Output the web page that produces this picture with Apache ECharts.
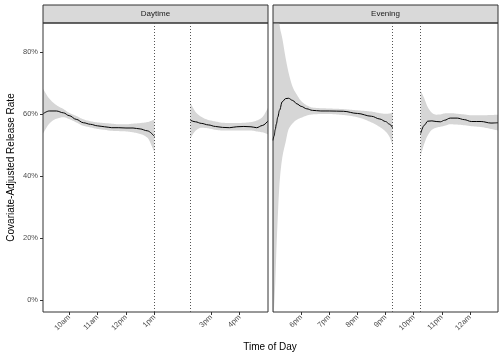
<!DOCTYPE html>
<html>
<head>
<meta charset="utf-8">
<script src="https://cdn.jsdelivr.net/npm/echarts@6/dist/echarts.min.js"></script>
<style>html,body{margin:0;padding:0;background:#fff}#c{width:504px;height:360px}</style>
</head>
<body>
<div id="c"></div>
<script>
// ---- Data (hours of day, 24+ = after midnight; values in %) ----
const panels = ['Daytime', 'Evening'];

// Daytime, segment 1
const day1Hours = [9.08, 9.3, 9.55, 9.8, 10.0, 10.25, 10.5, 10.75, 11.0, 11.25, 11.5, 11.75, 12.0, 12.25, 12.5, 12.75, 13.0];
const day1Mean  = [60.1, 61.0, 61.0, 60.4, 59.5, 58.3, 57.2, 56.7, 56.2, 55.9, 55.6, 55.6, 55.5, 55.5, 55.2, 54.6, 52.8];
const day1Upper = [68.2, 65.0, 62.9, 61.6, 60.4, 59.4, 58.3, 57.7, 57.3, 57.1, 56.9, 56.7, 56.7, 56.9, 57.1, 57.4, 58.2];
const day1Lower = [53.7, 56.9, 58.5, 59.0, 58.4, 57.3, 56.2, 55.7, 55.2, 54.9, 54.6, 54.5, 54.4, 54.1, 53.6, 52.4, 47.7];

// Daytime, segment 2
const day2Hours = [14.27, 14.45, 14.65, 14.9, 15.15, 15.4, 15.65, 15.9, 16.15, 16.4, 16.6, 16.8, 17.0];
const day2Mean  = [58.0, 57.5, 57.0, 56.5, 56.0, 55.7, 55.6, 55.9, 56.0, 55.9, 55.6, 56.3, 57.8];
const day2Upper = [63.6, 60.7, 59.1, 58.1, 57.6, 57.2, 57.1, 57.1, 57.2, 57.4, 57.9, 59.0, 62.0];
const day2Lower = [52.2, 54.6, 55.6, 55.4, 54.9, 54.7, 54.7, 54.7, 54.7, 54.7, 54.4, 54.1, 53.5];

// Evening, segment 1
const eve1Hours = [17.0, 17.04, 17.08, 17.12, 17.17, 17.23, 17.33, 17.45, 17.55, 17.7, 17.85, 18.0, 18.2, 18.4, 18.7, 19.0, 19.5, 20.0, 20.5, 20.8, 21.0, 21.15, 21.25];
const eve1Mean  = [51.5, 53.0, 55.0, 56.8, 59.0, 61.2, 64.0, 65.0, 65.1, 64.4, 63.3, 62.5, 61.7, 61.2, 61.0, 61.0, 60.9, 60.2, 59.3, 58.4, 57.6, 56.7, 55.6];
const eve1Upper = [130, 122, 115, 108, 100, 89.0, 84.5, 78.0, 73.5, 68.7, 66.2, 64.2, 62.8, 62.1, 61.9, 61.8, 61.6, 61.2, 60.8, 60.3, 60.1, 60.2, 60.6];
const eve1Lower = [-8, -2, 5.4, 16, 26.8, 37.5, 46, 51, 55, 57, 58.2, 58.8, 59.5, 59.9, 60.0, 60.0, 59.7, 59.0, 57.3, 55.8, 54.4, 52.5, 49.9];

// Evening, segment 2
const eve2Hours = [22.25, 22.38, 22.5, 22.65, 22.8, 22.95, 23.1, 23.3, 23.55, 23.8, 24.05, 24.4, 24.75, 25.0];
const eve2Mean  = [53.7, 56.4, 57.7, 57.8, 57.6, 57.5, 58.0, 58.7, 58.7, 58.2, 57.6, 57.6, 57.1, 57.2];
const eve2Upper = [67.6, 65.0, 62.3, 60.4, 59.8, 59.9, 60.2, 60.3, 60.1, 59.9, 59.6, 59.6, 59.7, 59.8];
const eve2Lower = [46.5, 50.5, 53.1, 54.9, 55.6, 55.9, 56.2, 56.7, 56.6, 56.4, 56.1, 55.8, 55.2, 54.7];

// Break markers (dotted lines)
const dayBreaks = [13.0, 14.27];
const eveBreaks = [21.25, 22.25];

// Axis ticks
const dayTicks = [10, 11, 12, 13, 15, 16];
const dayTickLabels = ['10am', '11am', '12pm', '1pm', '3pm', '4pm'];
const eveTicks = [18, 19, 20, 21, 22, 23, 24];
const eveTickLabels = ['6pm', '7pm', '8pm', '9pm', '10pm', '11pm', '12am'];
const yTicks = [0, 20, 40, 60, 80];

// ---- Build chart ----
const FONT = 'Liberation Sans';
const RIBBON = '#d6d6d6';

// Monotone cubic (Fritsch-Carlson) sampling of pixel points, for a smooth ribbon edge
function monotoneSample(pts) {
  const n = pts.length;
  if (n < 3) return pts;
  const dx = [], m = [], t = new Array(n);
  for (let i = 0; i < n - 1; i++) {
    dx.push(pts[i + 1][0] - pts[i][0]);
    m.push((pts[i + 1][1] - pts[i][1]) / dx[i]);
  }
  t[0] = m[0]; t[n - 1] = m[n - 2];
  for (let i = 1; i < n - 1; i++) {
    if (m[i - 1] * m[i] <= 0) t[i] = 0;
    else {
      const w1 = 2 * dx[i] + dx[i - 1], w2 = dx[i] + 2 * dx[i - 1];
      t[i] = (w1 + w2) / (w1 / m[i - 1] + w2 / m[i]);
    }
  }
  const out = [];
  for (let i = 0; i < n - 1; i++) {
    const steps = Math.max(2, Math.ceil(dx[i]));
    for (let k = 0; k < steps; k++) {
      const s = k / steps, h = dx[i];
      const h00 = 2 * s * s * s - 3 * s * s + 1, h10 = s * s * s - 2 * s * s + s;
      const h01 = -2 * s * s * s + 3 * s * s, h11 = s * s * s - s * s;
      out.push([pts[i][0] + s * h,
        h00 * pts[i][1] + h10 * h * t[i] + h01 * pts[i + 1][1] + h11 * h * t[i + 1]]);
    }
  }
  out.push(pts[n - 1]);
  return out;
}

function segment(hours, mean, lower, upper, gi, breaks) {
  const s = [];
  s.push({
    type: 'custom', xAxisIndex: gi, yAxisIndex: gi, silent: true, z: 1,
    encode: { x: 0, y: [1, 2] },
    data: hours.map((h, i) => [h, lower[i], upper[i]]),
    renderItem: function (params, api) {
      if (params.dataIndex !== 0) return null;
      const up = monotoneSample(hours.map((h, i) => api.coord([h, upper[i]])));
      const lo = monotoneSample(hours.map((h, i) => api.coord([h, lower[i]]))).reverse();
      const cs = params.coordSys;
      return {
        type: 'polygon',
        shape: { points: up.concat(lo) },
        style: { fill: RIBBON, stroke: null },
        clipPath: { type: 'rect', shape: { x: cs.x, y: cs.y, width: cs.width, height: cs.height } }
      };
    }
  });
  const line = {
    type: 'line', xAxisIndex: gi, yAxisIndex: gi, symbol: 'none', smooth: 0.35,
    smoothMonotone: 'x',
    silent: true, lineStyle: { color: '#000', width: 1 },
    data: hours.map((h, i) => [h, mean[i]]), z: 3
  };
  if (breaks) {
    line.markLine = {
      silent: true, symbol: 'none', label: { show: false },
      lineStyle: { color: '#555', type: [1, 2], width: 1 },
      data: breaks.map(b => ({ xAxis: b }))
    };
  }
  s.push(line);
  return s;
}

const grids = [
  { left: 43, top: 23, width: 225, height: 289 },
  { left: 273, top: 23, width: 225, height: 289 }
].map(g => Object.assign(g, { show: true, borderColor: '#333', borderWidth: 1, backgroundColor: 'transparent', containLabel: false, z: 5 }));

function xAxis(gi, min, max, ticks, labels) {
  return {
    type: 'value', gridIndex: gi, min: min, max: max,
    axisLine: { show: false, onZero: false },
    splitLine: { show: false },
    axisTick: { show: true, length: 3, lineStyle: { color: '#333', width: 1 }, customValues: ticks },
    axisLabel: {
      show: true, rotate: 45, fontFamily: FONT, fontSize: 7.5, color: '#4d4d4d', margin: 4,
      customValues: ticks,
      formatter: v => { const i = ticks.indexOf(v); return i >= 0 ? labels[i] : ''; }
    }
  };
}

function yAxis(gi, showLabels) {
  return {
    type: 'value', gridIndex: gi, min: -3.9, max: 89.4,
    axisLine: { show: false, onZero: false },
    splitLine: { show: false },
    axisTick: { show: showLabels, length: 3, lineStyle: { color: '#333', width: 1 }, customValues: yTicks },
    axisLabel: {
      show: showLabels, fontFamily: FONT, fontSize: 7.5, color: '#4d4d4d', margin: 5,
      customValues: yTicks, formatter: v => v + '%'
    },
    name: showLabels ? 'Covariate-Adjusted Release Rate' : '',
    nameLocation: 'middle', nameGap: 27,
    nameTextStyle: { fontFamily: FONT, fontSize: 10, color: '#000' }
  };
}

function strip(gi, text) {
  const g = grids[gi];
  return {
    type: 'group',
    children: [
      { type: 'rect', shape: { x: g.left, y: 5, width: g.width, height: 18 },
        style: { fill: '#d9d9d9', stroke: '#333', lineWidth: 1 } },
      { type: 'text', x: g.left + g.width / 2, y: 14,
        style: { text: text, fontFamily: FONT, fontSize: 8, fill: '#1a1a1a', align: 'center', verticalAlign: 'middle' } }
    ]
  };
}

const option = {
  animation: false,
  backgroundColor: '#fff',
  grid: grids,
  xAxis: [
    xAxis(0, 9.08, 17.0, dayTicks, dayTickLabels),
    xAxis(1, 17.0, 25.0, eveTicks, eveTickLabels)
  ],
  yAxis: [yAxis(0, true), yAxis(1, false)],
  series: [].concat(
    segment(day1Hours, day1Mean, day1Lower, day1Upper, 0, dayBreaks),
    segment(day2Hours, day2Mean, day2Lower, day2Upper, 0, null),
    segment(eve1Hours, eve1Mean, eve1Lower, eve1Upper, 1, eveBreaks),
    segment(eve2Hours, eve2Mean, eve2Lower, eve2Upper, 1, null)
  ),
  graphic: [
    strip(0, panels[0]),
    strip(1, panels[1]),
    { type: 'text', x: 270, y: 347,
      style: { text: 'Time of Day', fontFamily: FONT, fontSize: 10, fill: '#000', align: 'center', verticalAlign: 'middle' } }
  ]
};

const chart = echarts.init(document.getElementById('c'), null, { renderer: 'canvas' });
chart.setOption(option);
</script>
</body>
</html>
